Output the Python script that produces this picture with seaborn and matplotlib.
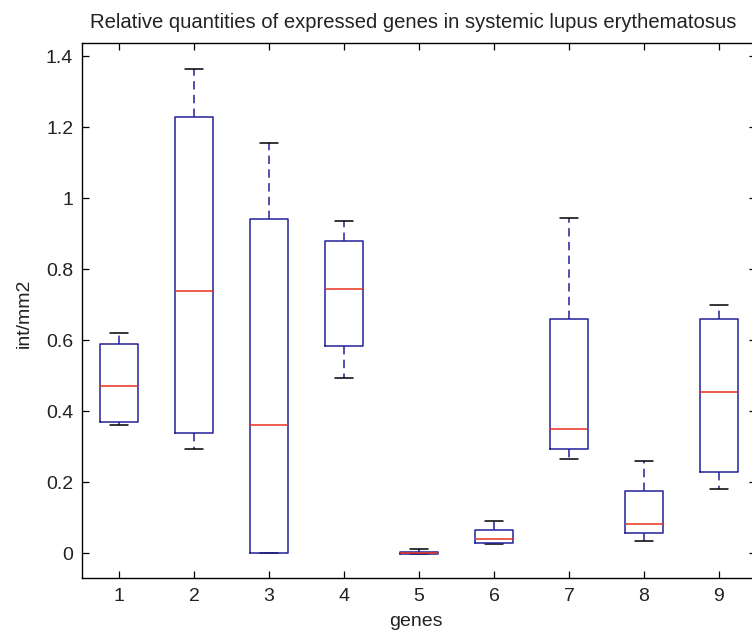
import numpy as np
import pandas as pd
import matplotlib
matplotlib.use("Agg")
import matplotlib.pyplot as plt
import seaborn as sns

# ---- data (five-number summaries per gene) ----
genes = ["1", "2", "3", "4", "5", "6", "7", "8", "9"]
whisker_low = [0.36, 0.295, 0.0, 0.495, -0.003, 0.026, 0.265, 0.035, 0.18]
quart_1 = [0.37, 0.34, 0.0, 0.585, -0.002, 0.030, 0.295, 0.057, 0.228]
medians = [0.47, 0.74, 0.36, 0.745, 0.0, 0.040, 0.35, 0.083, 0.455]
quart_3 = [0.59, 1.23, 0.94, 0.88, 0.003, 0.066, 0.66, 0.175, 0.66]
whisker_high = [0.62, 1.365, 1.155, 0.935, 0.012, 0.092, 0.945, 0.26, 0.698]
ytick_values = [0, 0.2, 0.4, 0.6, 0.8, 1.0, 1.2, 1.4]
ytick_labels = ["0", "0.2", "0.4", "0.6", "0.8", "1", "1.2", "1.4"]

title = "Relative quantities of expressed genes in systemic lupus erythematosus"
xlabel = "genes"
ylabel = "int/mm2"

rows = []
for g, a, b, c, d, e in zip(genes, whisker_low, quart_1, medians, quart_3, whisker_high):
    for v in (a, b, c, d, e):
        rows.append({"gene": g, "value": v})
df = pd.DataFrame(rows)

sns.set_theme(style="white")
plt.rcParams["font.family"] = ["Liberation Sans", "DejaVu Sans"]
FS = 14

W, H = 752, 634
fig = plt.figure(figsize=(W / 100, H / 100), dpi=100, facecolor="white")
ax_left, ax_right, ax_top, ax_bottom = 81.5, 756.5, 43, 578
ax = fig.add_axes([ax_left / W, 1 - ax_bottom / H, (ax_right - ax_left) / W, (ax_bottom - ax_top) / H])
ax.set_facecolor("white")

blue = "#22229a"
red = "#e8321e"
LW = 1.1

sns.boxplot(
    data=df, x="gene", y="value", order=genes, ax=ax,
    width=0.5, whis=(0, 100), fill=False, showfliers=False,
    color=blue, linewidth=LW,
    boxprops=dict(color=blue, linewidth=LW, zorder=4),
    medianprops=dict(color=red, linewidth=LW, zorder=5),
    whiskerprops=dict(color=blue, linewidth=LW, linestyle=(0, (5.5, 3.5)), zorder=3),
    capprops=dict(color="black", linewidth=LW, zorder=3),
)

ax.set_xlim(-0.5, 8.5)
ax.set_ylim(-0.0696, 1.437)
ax.set_yticks(ytick_values)
ax.set_yticklabels(ytick_labels)
ax.set_xticks(range(len(genes)))
ax.set_xticklabels(genes)

for sp in ax.spines.values():
    sp.set_visible(True)
    sp.set_color("black")
    sp.set_linewidth(1.0)

ax.tick_params(axis="both", which="major", direction="in", length=5, width=0.9,
               color="black", labelsize=FS, labelcolor="#222222",
               top=True, right=True, left=True, bottom=True)
ax.tick_params(axis="y", pad=6)
ax.tick_params(axis="x", pad=7)

ax.set_xlabel(xlabel, fontsize=FS, color="#222222")
ax.set_ylabel(ylabel, fontsize=FS, color="#222222")
ax.xaxis.label.set_va("center")
ax.xaxis.set_label_coords((416 - ax_left) / (ax_right - ax_left), (ax_bottom - 622) / (ax_bottom - ax_top))
ax.yaxis.label.set_va("center")
ax.yaxis.set_label_coords((24 - ax_left) / (ax_right - ax_left), (ax_bottom - 313) / (ax_bottom - ax_top))

fig.text(413 / W, 1 - 22 / H, title, ha="center", va="center", fontsize=14.6, color="#222222")

fig.savefig("out.png", dpi=100, facecolor="white")
